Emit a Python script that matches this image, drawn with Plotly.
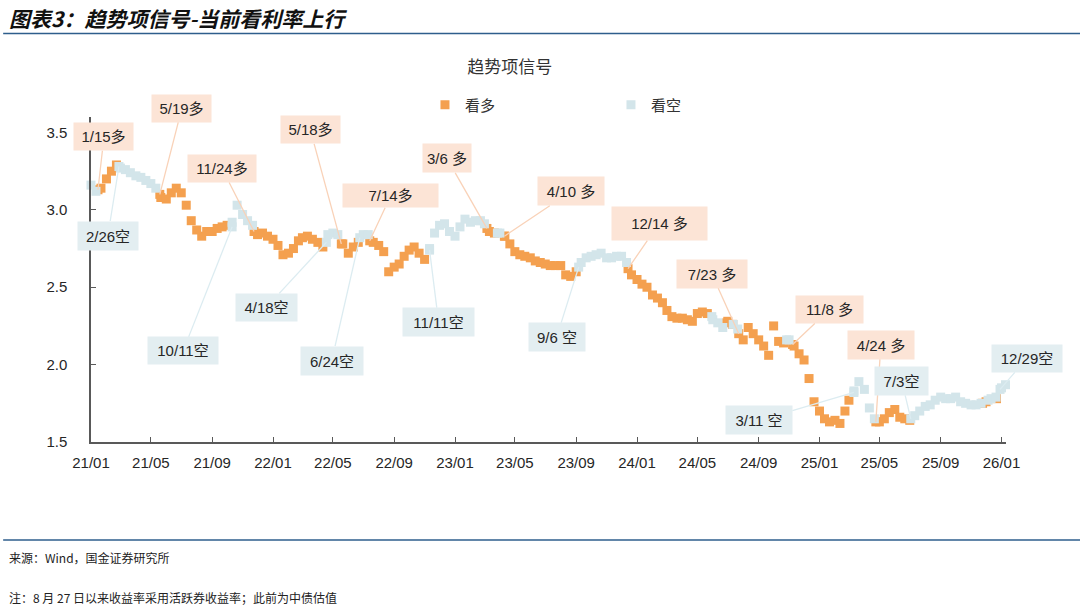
import pandas as pd
import plotly.graph_objects as go

y2021 = [3.16, 3.12, 3.14, 3.20, 3.25, 3.29, 3.27, 3.26, 3.24, 3.22, 3.21, 3.19,
         3.17, 3.14, 3.08, 3.07, 3.11, 3.14, 3.11, 3.03, 2.93, 2.87, 2.83, 2.86,
         2.86, 2.88, 2.89, 2.90, 2.92, 3.03, 2.97, 2.93, 2.90, 2.84, 2.85, 2.83]
y2022 = [2.81, 2.77, 2.71, 2.72, 2.75, 2.80, 2.82, 2.83, 2.81, 2.79, 2.76, 2.84,
         2.85, 2.84, 2.78, 2.72, 2.76, 2.79, 2.84, 2.84, 2.79, 2.77, 2.73, 2.60,
         2.63, 2.65, 2.70, 2.74, 2.76, 2.72, 2.68, 2.75, 2.85, 2.90, 2.91, 2.86]
y2023 = [2.83, 2.89, 2.94, 2.92, 2.93, 2.93, 2.91, 2.86, 2.85, 2.85, 2.83, 2.78,
         2.73, 2.71, 2.70, 2.69, 2.67, 2.66, 2.65, 2.64, 2.64, 2.64, 2.58, 2.57,
         2.60, 2.66, 2.69, 2.70, 2.71, 2.72, 2.69, 2.69, 2.70, 2.70, 2.66, 2.58]
y2024 = [2.55, 2.52, 2.50, 2.45, 2.43, 2.40, 2.35, 2.31, 2.30, 2.30, 2.29, 2.28,
         2.33, 2.34, 2.33, 2.29, 2.27, 2.24, 2.28, 2.26, 2.23, 2.16, 2.24, 2.20,
         2.16, 2.12, 2.06, 2.25, 2.15, 2.14, 2.16, 2.12, 2.07, 2.03, 1.91, 1.76]
y2025 = [1.70, 1.65, 1.63, 1.64, 1.62, 1.70, 1.77, 1.83, 1.89, 1.84, 1.72, 1.65,
         1.63, 1.65, 1.69, 1.71, 1.66, 1.65, 1.64, 1.67, 1.70, 1.73, 1.74, 1.77,
         1.79, 1.78, 1.78, 1.79, 1.76, 1.75, 1.74, 1.74, 1.75, 1.76, 1.78, 1.79]
tail_dates = ['2026-01-01', '2026-01-09']
tail_values = [1.85, 1.87]

# labelled signals
sig_dates = ['2021-01-15', '2021-02-26', '2021-05-19', '2021-10-11', '2021-11-24',
             '2022-04-18', '2022-05-18', '2022-06-24', '2022-07-14', '2022-11-11',
             '2023-03-06', '2023-04-10', '2023-09-06', '2023-12-14', '2024-07-23',
             '2024-11-08', '2025-03-11', '2025-04-24', '2025-07-03', '2025-12-29']
sig_labels = ['1/15多', '2/26空', '5/19多', '10/11空', '11/24多',
              '4/18空', '5/18多', '6/24空', '7/14多', '11/11空',
              '3/6 多', '4/10 多', '9/6 空', '12/14 多', '7/23 多',
              '11/8 多', '3/11 空', '4/24 多', '7/3空', '12/29空']
sig_kinds = ['多', '空', '多', '空', '多', '空', '多', '空', '多', '空',
             '多', '多', '空', '多', '多', '多', '空', '多', '空', '空']
sig_values = [3.13, 3.28, 3.10, 2.89, 2.86, 2.79, 2.78, 2.82, 2.80, 2.74,
              2.88, 2.83, 2.63, 2.62, 2.20, 2.13, 1.82, 1.63, 1.65, 1.84]

# unlabelled switches visible in the colouring
sw_dates = ['2023-03-27', '2024-05-30', '2024-06-29', '2024-07-12', '2024-10-27',
            '2025-11-24', '2025-12-05', '2025-12-22']
sw_kinds = ['空', '空', '多', '空', '空', '多', '空', '多']
sw_values = [2.85, 2.31, 2.27, 2.26, 2.16, 1.75, 1.77, 1.78]

# %% label box layout: offset from point (px) and box size
label_layout = [(6, -53, 59, 27), (-11, 69, 60, 28), (22, -86, 59, 27), (-49, 124, 70, 27),
                (-32, -63, 68, 27), (-60, 65, 61, 27), (-31, -114, 59, 27), (-28, 123, 62, 28),
                (21, -45, 95, 23), (9, 72, 71, 28), (-40, -70, 48, 28), (67, -45, 66, 28),
                (-22, 70, 56, 28), (31, -45, 95, 33), (-27, -60, 70, 28), (37, -35, 67, 27),
                (-95, 28, 66, 28), (5, -77, 66, 28), (-9, -38, 53, 28), (27, -31, 70, 27)]

ORANGE = '#F4A04F'
BLUE = '#D3E5EA'
BOX = {'多': '#FCE4D6', '空': '#E3EEF1'}
LEAD = {'多': '#F9D2B8', '空': '#DCECF1'}

# %% assemble series
dates = []
for yr in range(2021, 2026):
    for m in range(1, 13):
        for d in (1, 11, 21):
            dates.append(f'{yr}-{m:02d}-{d:02d}')
values = y2021 + y2022 + y2023 + y2024 + y2025

df = pd.concat([
    pd.DataFrame({'date': dates + tail_dates, 'value': values + tail_values}),
    pd.DataFrame({'date': sig_dates, 'value': sig_values}),
    pd.DataFrame({'date': sw_dates, 'value': sw_values}),
])
df['date'] = pd.to_datetime(df['date'])
df = df.sort_values('date', kind='stable').reset_index(drop=True)

switches = pd.DataFrame({'date': pd.to_datetime(sig_dates + sw_dates),
                         'kind': sig_kinds + sw_kinds}).sort_values('date')


def state_at(t):
    prev = switches[switches['date'] <= t]
    return '空' if prev.empty else prev['kind'].iloc[-1]


df['kind'] = df['date'].map(state_at)

fig = go.Figure()
for kind, name, color in [('多', '看多', ORANGE), ('空', '看空', BLUE)]:
    sub = df[df['kind'] == kind]
    fig.add_trace(go.Scatter(
        x=sub['date'], y=sub['value'], mode='markers', name=name,
        marker=dict(symbol='square', size=9, color=color, line=dict(width=0)),
        cliponaxis=False,
    ))

label_font = dict(family='Liberation Sans, Noto Sans CJK SC', size=15, color='#262626')
for d, lab, kind, v, (ax, ay, w, h) in zip(sig_dates, sig_labels, sig_kinds, sig_values, label_layout):
    fig.add_annotation(
        x=d, y=v, xref='x', yref='y', text=lab, showarrow=True, arrowhead=0,
        arrowwidth=1.3, arrowcolor=LEAD[kind], ax=ax, ay=ay, standoff=0,
        bgcolor=BOX[kind], borderpad=0, width=w, height=h, font=label_font,
        align='center', valign='middle',
    )

# header / footer text
fig.add_annotation(text='<b><i>图表3：趋势项信号-当前看利率上行</i></b>', xref='paper', yref='paper',
                   x=-0.092, y=1.305, xanchor='left', yanchor='middle', showarrow=False,
                   font=dict(family='Noto Sans CJK SC', size=21, color='#111111'))
fig.add_annotation(text='来源：Wind，国金证券研究所', xref='paper', yref='paper',
                   x=-0.092, y=-0.354, xanchor='left', yanchor='middle', showarrow=False,
                   font=dict(family='Noto Sans CJK SC', size=12, color='#222222'))
fig.add_annotation(text='注：8 月 27 日以来收益率采用活跃券收益率；此前为中债估值', xref='paper', yref='paper',
                   x=-0.092, y=-0.477, xanchor='left', yanchor='middle', showarrow=False,
                   font=dict(family='Noto Sans CJK SC', size=12, color='#222222'))
for yp in (1.257, -0.3015):
    fig.add_shape(type='line', xref='paper', yref='paper', x0=-0.096, x1=1.081, y0=yp, y1=yp,
                  line=dict(color='#2E5E8C', width=1.3))

fig.update_layout(
    width=1080, height=606,
    margin=dict(l=91, r=74, t=117, b=164, autoexpand=False),
    paper_bgcolor='white', plot_bgcolor='white',
    title=dict(text='趋势项信号', x=0.472, xref='container', xanchor='center',
               y=1 - 67 / 606, yref='container', yanchor='middle',
               font=dict(family='Noto Sans CJK SC', size=17, color='#333333')),
    legend=dict(orientation='h', x=0.365, y=1.037, xanchor='left', yanchor='middle',
                entrywidth=141, entrywidthmode='pixels',
                font=dict(family='Noto Sans CJK SC', size=15, color='#333333'),
                bgcolor='rgba(0,0,0,0)'),
    showlegend=True,
)
fig.update_xaxes(
    type='date', range=['2021-01-01', '2026-01-10'], tick0='2021-01-01', dtick='M4',
    tickformat='%y/%m', ticks='inside', ticklen=5, tickcolor='#595959',
    showline=True, linecolor='#595959', linewidth=1.5, showgrid=False, zeroline=False,
    tickfont=dict(family='Liberation Sans', size=15, color='#262626'), ticklabelstandoff=6,
)
fig.update_yaxes(
    range=[1.5, 3.6], tickvals=[1.5, 2.0, 2.5, 3.0, 3.5], tickformat='.1f',
    ticks='inside', ticklen=5, tickcolor='#595959',
    showline=True, linecolor='#595959', linewidth=1.5, showgrid=False, zeroline=False,
    tickfont=dict(family='Liberation Sans', size=15, color='#262626'), ticklabelstandoff=19,
)

# page has a default body margin; drop it so the figure sits at the window origin
fig.write_html('out.html', config={'displayModeBar': False},
               post_script="document.body.style.margin='0px';")
